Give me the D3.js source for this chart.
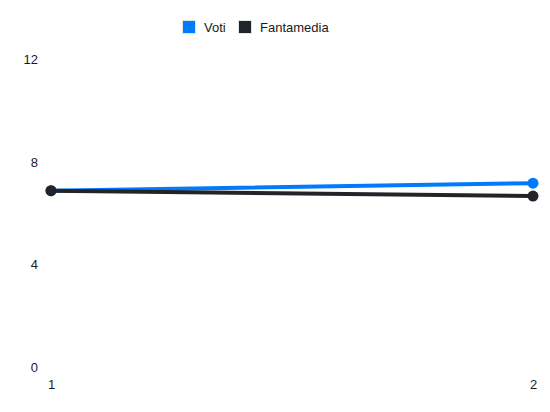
<!DOCTYPE html>
<html>
<head>
<meta charset="utf-8">
<script src="https://cdn.jsdelivr.net/npm/d3@7"></script>
<style>
  html, body { margin: 0; padding: 0; background: #fff; }
  svg { display: block; }
  svg text { font-family: "Liberation Sans", Arial, Helvetica, sans-serif; }
</style>
</head>
<body>
<svg id="chart" width="550" height="412"></svg>
<script>
(function () {
  "use strict";
  // giornate (x) and the two series
  var giornate = [1, 2];
  var voti = [6.88, 7.17];
  var fantamedia = [6.88, 6.67];
  var yTicks = [0, 4, 8, 12];
  var seriesNames = ["Voti", "Fantamedia"];
  var seriesColors = ["#007bff", "#212529"];

  var TEXT = "#1a1a1a", FS = 13;
  var svg = d3.select("#chart");

  var x = d3.scaleLinear().domain([1, 2]).range([51, 533]);
  var y = d3.scaleLinear().domain([0, 12]).range([367.5, 59]);

  // y tick labels (no axis line, no grid)
  var yAxis = d3.axisLeft(y).tickValues(yTicks).tickSize(0).tickPadding(0);
  var gy = svg.append("g").attr("transform", "translate(38,0)").call(yAxis);
  gy.select(".domain").remove();
  gy.attr("font-family", null).attr("font-size", FS);
  gy.selectAll("text").attr("fill", TEXT);

  // x tick labels
  var xAxis = d3.axisBottom(x).tickValues(giornate).tickFormat(d3.format("d")).tickSize(0).tickPadding(0);
  var gx = svg.append("g").attr("transform", "translate(0,380)").call(xAxis);
  gx.select(".domain").remove();
  gx.attr("font-family", null).attr("font-size", FS);
  gx.selectAll("text").attr("fill", TEXT);

  // series
  var series = [voti, fantamedia];
  var line = d3.line().x(function (d, i) { return x(giornate[i]); }).y(function (d) { return y(d); });
  series.forEach(function (vals, s) {
    var g = svg.append("g");
    g.append("path").attr("d", line(vals)).attr("fill", "none")
      .attr("stroke", seriesColors[s]).attr("stroke-width", 4).attr("stroke-linecap", "round");
    g.selectAll("circle").data(vals).enter().append("circle")
      .attr("cx", function (d, i) { return x(giornate[i]); })
      .attr("cy", function (d) { return y(d); })
      .attr("r", 5.5).attr("fill", seriesColors[s]);
  });

  // legend
  var legX = [182, 238];
  seriesNames.forEach(function (name, s) {
    svg.append("rect").attr("x", legX[s] + 0.5).attr("y", 20.5).attr("width", 13).attr("height", 13)
      .attr("fill", seriesColors[s]).attr("stroke", "#e6e6e6").attr("stroke-width", 1);
    svg.append("text").attr("x", legX[s] + 22).attr("y", 32).attr("font-size", FS)
      .attr("fill", TEXT).text(name);
  });
})();
</script>
</body>
</html>
